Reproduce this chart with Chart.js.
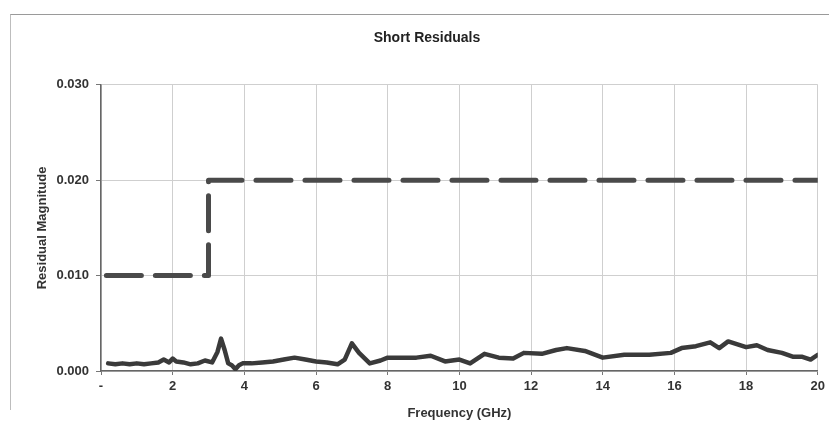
<!DOCTYPE html>
<html>
<head>
<meta charset="utf-8">
<script src="https://cdn.jsdelivr.net/npm/chart.js@4.4.1/dist/chart.umd.min.js"></script>
<style>
  html, body { margin: 0; padding: 0; background: #ffffff; }
  #wrap { position: relative; width: 829px; height: 437px; }
  #frame { position: absolute; left: 10px; top: 14px; width: 830px; height: 395px;
           border-top: 1.5px solid #9a9a9a; border-left: 1px solid #bdbdbd; pointer-events: none; }
  canvas { position: absolute; left: 0; top: 0; }
</style>
</head>
<body>
<div id="wrap">
  <div id="frame"></div>
  <canvas id="c" width="829" height="437"></canvas>
</div>
<script>
// ---- data ----
const chartTitle = 'Short Residuals';
const xAxisTitle = 'Frequency (GHz)';
const yAxisTitle = 'Residual Magnitude';
const xTickLabels = ['-', '2', '4', '6', '8', '10', '12', '14', '16', '18', '20'];
const yTickLabels = ['0.000', '0.010', '0.020', '0.030'];

const limitFreq  = [0.15, 3, 3, 20];
const limitValue = [0.010, 0.010, 0.020, 0.020];

const freqGHz = [0.2, 0.4, 0.6, 0.8, 1.0, 1.2, 1.4, 1.6, 1.75, 1.9, 2.0, 2.1, 2.3, 2.5, 2.7, 2.9,
  3.1, 3.25, 3.35, 3.45, 3.55, 3.65, 3.75, 3.85, 3.95, 4.2, 4.5, 4.8, 5.1, 5.4, 5.7, 6.0, 6.3,
  6.6, 6.8, 7.0, 7.2, 7.5, 7.8, 8.0, 8.4, 8.8, 9.2, 9.6, 10.0, 10.3, 10.7, 11.1, 11.5, 11.8,
  12.3, 12.7, 13.0, 13.5, 14.0, 14.6, 15.3, 15.9, 16.2, 16.6, 17.0, 17.25, 17.5, 18.0, 18.3,
  18.6, 19.0, 19.3, 19.55, 19.8, 20.0];
const residual = [0.0008, 0.0007, 0.0008, 0.0007, 0.0008, 0.0007, 0.0008, 0.0009, 0.0012, 0.0009,
  0.0013, 0.0010, 0.0009, 0.0007, 0.0008, 0.0011, 0.0009, 0.0020, 0.0034, 0.0022, 0.0008, 0.0006,
  0.0002, 0.0006, 0.0008, 0.0008, 0.0009, 0.0010, 0.0012, 0.0014, 0.0012, 0.0010, 0.0009, 0.0007,
  0.0012, 0.0029, 0.0019, 0.0008, 0.0011, 0.0014, 0.0014, 0.0014, 0.0016, 0.0010, 0.0012, 0.0008,
  0.0018, 0.0014, 0.0013, 0.0019, 0.0018, 0.0022, 0.0024, 0.0021, 0.0014, 0.0017, 0.0017, 0.0019,
  0.0024, 0.0026, 0.0030, 0.0024, 0.0031, 0.0025, 0.0027, 0.0022, 0.0019, 0.0015, 0.0015, 0.0012,
  0.0017];

const toPoints = (xs, ys) => xs.map((x, i) => ({ x: x, y: ys[i] }));

const fontFamily = '"Liberation Sans", Arial, sans-serif';

new Chart(document.getElementById('c'), {
  type: 'line',
  data: {
    datasets: [
      {
        label: 'Limit',
        data: toPoints(limitFreq, limitValue),
        borderColor: '#4a4a4a',
        borderWidth: 5,
        borderDash: [35, 14],
        borderCapStyle: 'round',
        borderJoinStyle: 'round',
        pointRadius: 0,
        tension: 0,
        fill: false
      },
      {
        label: 'Residual',
        data: toPoints(freqGHz, residual),
        borderColor: '#3a3a3a',
        borderWidth: 4.5,
        borderJoinStyle: 'round',
        borderCapStyle: 'round',
        pointRadius: 0,
        tension: 0,
        fill: false
      }
    ]
  },
  options: {
    responsive: false,
    animation: false,
    devicePixelRatio: 1,
    layout: { padding: { left: 35, right: 10, top: 30, bottom: 12 } },
    plugins: {
      legend: { display: false },
      tooltip: { enabled: false },
      title: {
        display: true,
        text: chartTitle,
        color: '#222',
        font: { family: fontFamily, size: 14, weight: 'bold', lineHeight: 1.2 },
        padding: { top: 0, bottom: 38 }
      }
    },
    scales: {
      x: {
        type: 'linear',
        min: 0,
        max: 20,
        afterFit: (s) => { s.height = 54; },
        ticks: {
          stepSize: 2,
          color: '#333',
          padding: 4,
          maxRotation: 0,
          font: { family: fontFamily, size: 13, weight: 'bold' },
          callback: (v, i) => xTickLabels[i]
        },
        grid: { color: '#cfcfcf', lineWidth: 1, tickLength: 4, tickColor: '#777' },
        border: { color: '#666', width: 1.5 },
        title: {
          display: true,
          text: xAxisTitle,
          color: '#333',
          font: { family: fontFamily, size: 13, weight: 'bold', lineHeight: 1.2 },
          padding: { top: 10, bottom: 4 }
        }
      },
      y: {
        type: 'linear',
        min: 0,
        max: 0.03,
        afterFit: (s) => { s.width = 66; },
        ticks: {
          stepSize: 0.01,
          color: '#333',
          padding: 7,
          font: { family: fontFamily, size: 13, weight: 'bold' },
          callback: (v, i) => yTickLabels[i]
        },
        grid: { color: '#cfcfcf', lineWidth: 1, tickLength: 5, tickColor: '#777' },
        border: { color: '#666', width: 1.5 },
        title: {
          display: true,
          text: yAxisTitle,
          color: '#333',
          font: { family: fontFamily, size: 13, weight: 'bold', lineHeight: 1.2 },
          padding: { top: 0, bottom: 4 }
        }
      }
    }
  }
});
</script>
</body>
</html>
